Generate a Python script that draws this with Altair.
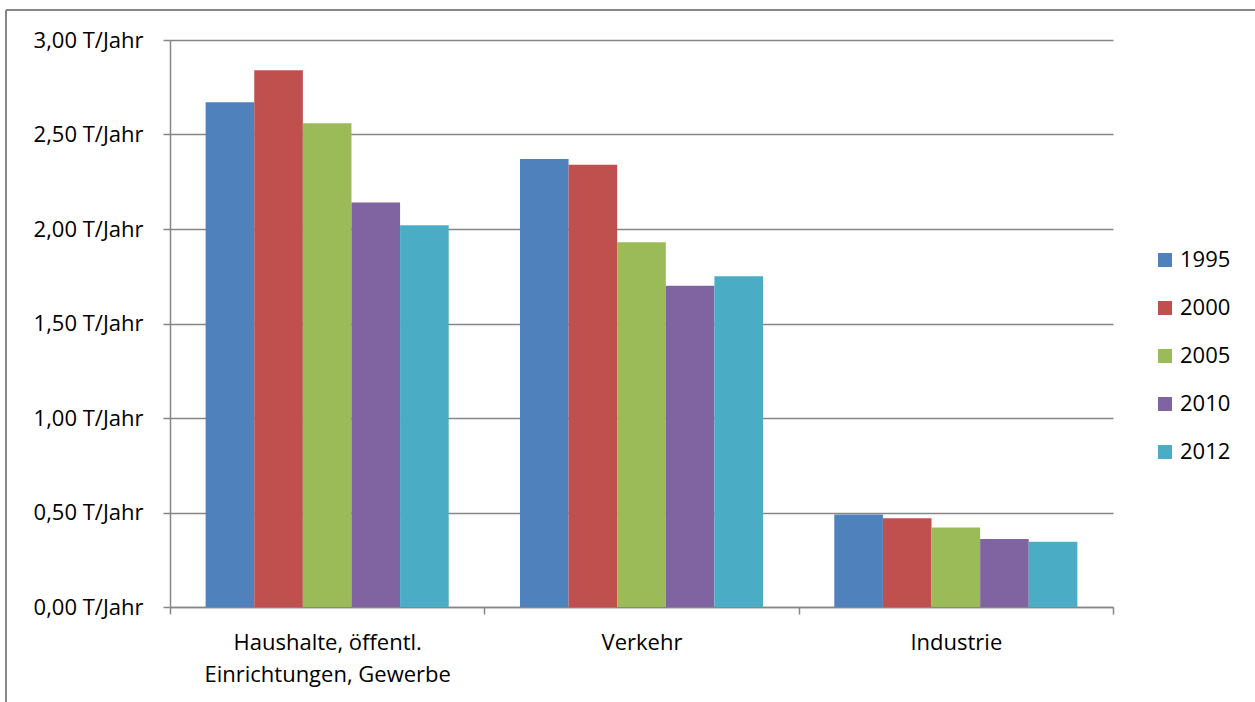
import altair as alt
import pandas as pd

categories = ["Haushalte, öffentl.|Einrichtungen, Gewerbe", "Verkehr", "Industrie"]
years = ["1995", "2000", "2005", "2010", "2012"]
colors = ["#4F81BD", "#C0504D", "#9BBB59", "#8064A2", "#4BACC6"]

values = {
    "1995": [2.67, 2.37, 0.49],
    "2000": [2.84, 2.34, 0.47],
    "2005": [2.56, 1.93, 0.42],
    "2010": [2.14, 1.70, 0.36],
    "2012": [2.02, 1.75, 0.345],
}

rows = []
for y in years:
    for c, v in zip(categories, values[y]):
        rows.append({"Bereich": c, "Jahr": y, "Wert": v})
df = pd.DataFrame(rows)

FONT = "Open Sans"
FS = 22
GRID = "#868686"

bars = alt.Chart(df).mark_bar().encode(
    x=alt.X(
        "Bereich:N",
        sort=categories,
        title=None,
        scale=alt.Scale(paddingInner=0, paddingOuter=0),
        axis=alt.Axis(
            labelAngle=0,
            labelExpr="split(datum.label, '|')",
            labelFont=FONT,
            labelFontSize=FS,
            labelColor="#000000",
            labelPadding=18,
            labelLineHeight=32,
            labelLimit=0,
            tickBand="extent",
            tickSize=7,
            tickColor=GRID,
            tickWidth=1.5,
            domainColor=GRID,
            domainWidth=1.5,
            grid=False,
        ),
    ),
    xOffset=alt.XOffset(
        "Jahr:N",
        sort=years,
        scale=alt.Scale(paddingInner=0, paddingOuter=0.733),
    ),
    y=alt.Y(
        "Wert:Q",
        title=None,
        scale=alt.Scale(domain=[0, 3], nice=False),
        axis=alt.Axis(
            values=[0, 0.5, 1, 1.5, 2, 2.5, 3],
            labelExpr="replace(format(datum.value, '.2f'), '.', ',') + ' T/Jahr'",
            labelFont=FONT,
            labelFontSize=FS,
            labelColor="#000000",
            labelPadding=20,
            tickSize=7,
            tickColor=GRID,
            tickWidth=1.5,
            domainColor=GRID,
            domainWidth=1.5,
            grid=True,
            gridColor=GRID,
            gridWidth=1.5,
        ),
    ),
    color=alt.Color(
        "Jahr:N",
        sort=years,
        scale=alt.Scale(domain=years, range=colors),
        legend=alt.Legend(
            title=None,
            orient="none",
            legendX=984,
            legendY=209,
            symbolType="square",
            symbolSize=196,
            symbolStrokeWidth=0,
            labelFont=FONT,
            labelFontSize=FS,
            labelColor="#000000",
            rowPadding=26,
            labelOffset=4,
        ),
    ),
)

# thin outer frame around the chart area
frame_top = alt.Chart(df).mark_rule(color=GRID, strokeWidth=1.5, clip=False).encode(
    x=alt.value(-164), x2=alt.value(1100), y=alt.value(-30)
)
frame_left = alt.Chart(df).mark_rule(color=GRID, strokeWidth=1.5, clip=False).encode(
    x=alt.value(-164), y=alt.value(-30), y2=alt.value(700)
)

chart = alt.layer(bars, frame_top, frame_left).properties(
    width=943,
    height=567,
    padding={"left": 170, "top": 40, "right": 142, "bottom": 95},
    autosize=alt.AutoSizeParams(type="none"),
    background="#ffffff",
).configure_view(stroke=None)

chart.save("out.html", embed_options={"renderer": "svg", "actions": False})
